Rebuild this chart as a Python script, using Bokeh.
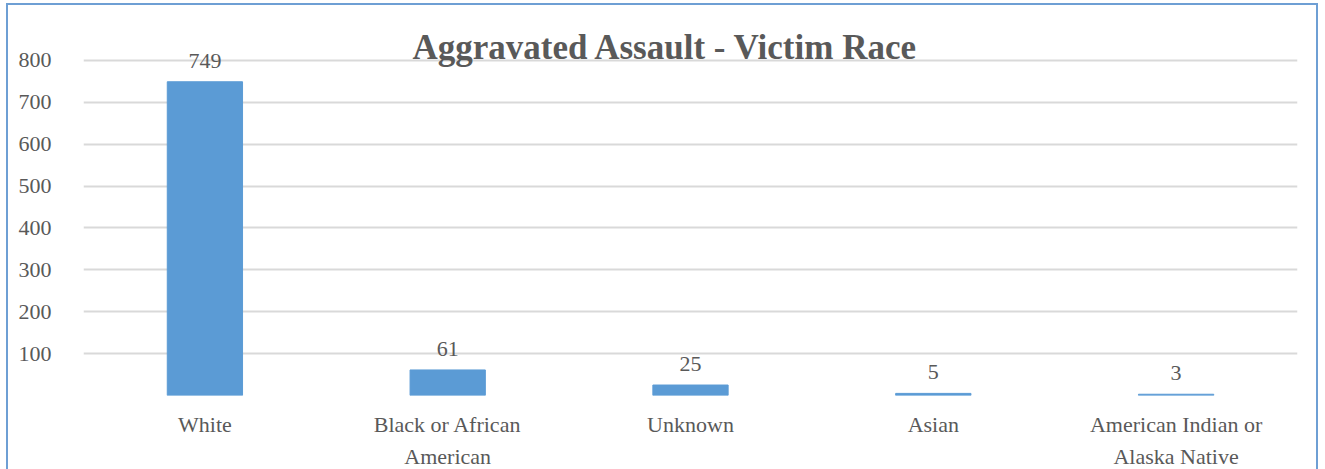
from bokeh.plotting import figure
from bokeh.models import ColumnDataSource, FixedTicker, Label, Range1d, FactorRange
from bokeh.core.properties import value
from bokeh.embed import file_html
from bokeh.resources import INLINE

categories = ["White", "Black or African\nAmerican", "Unknown", "Asian", "American Indian or\nAlaska Native"]
counts = [749, 61, 25, 5, 3]
y_ticks = [100, 200, 300, 400, 500, 600, 700, 800]
grid_ticks = [0, 100, 200, 300, 400, 500, 600, 700, 800]
title_text = "Aggravated Assault - Victim Race"

FONT = "Liberation Serif"
TXT = "#595959"

src = ColumnDataSource(dict(cat=categories, val=counts, lab=[str(v) for v in counts]))

p = figure(x_range=FactorRange(*categories, range_padding=0), y_range=Range1d(0, 900),
           width=1312, height=470, output_backend="svg", toolbar_location=None,
           min_border_left=75, min_border_right=23, min_border_top=13, min_border_bottom=80)
p.styles = {"border": "2px solid #6e9fd4", "margin-left": "6px", "margin-top": "3px"}
p.outline_line_color = None

p.vbar(x="cat", top="val", width=0.31, source=src, color="#5B9BD5")
p.text(x="cat", y="val", text="lab", source=src, text_align="center", text_baseline="bottom",
       y_offset=-14, text_font=value(FONT), text_font_size="22px", text_color=TXT)

p.add_layout(Label(x=2.397, y=830, text=title_text, text_align="center", text_baseline="alphabetic",
                   text_font=FONT, text_font_size="35px", text_font_style="bold", text_color=TXT))

p.yaxis.ticker = FixedTicker(ticks=y_ticks)
p.ygrid.ticker = FixedTicker(ticks=grid_ticks)
p.ygrid.grid_line_color = "#d9d9d9"
p.ygrid.grid_line_width = 2
p.xgrid.grid_line_color = None

for ax in (p.xaxis[0], p.yaxis[0]):
    ax.axis_line_color = None
    ax.major_tick_line_color = None
    ax.minor_tick_line_color = None
    ax.major_label_text_font = FONT
    ax.major_label_text_font_size = "22px"
    ax.major_label_text_color = TXT
p.xaxis.major_label_text_line_height = 1.3
p.yaxis.major_label_standoff = 26
p.xaxis.major_label_standoff = 10

open("out.html", "w").write(file_html(p, INLINE))
